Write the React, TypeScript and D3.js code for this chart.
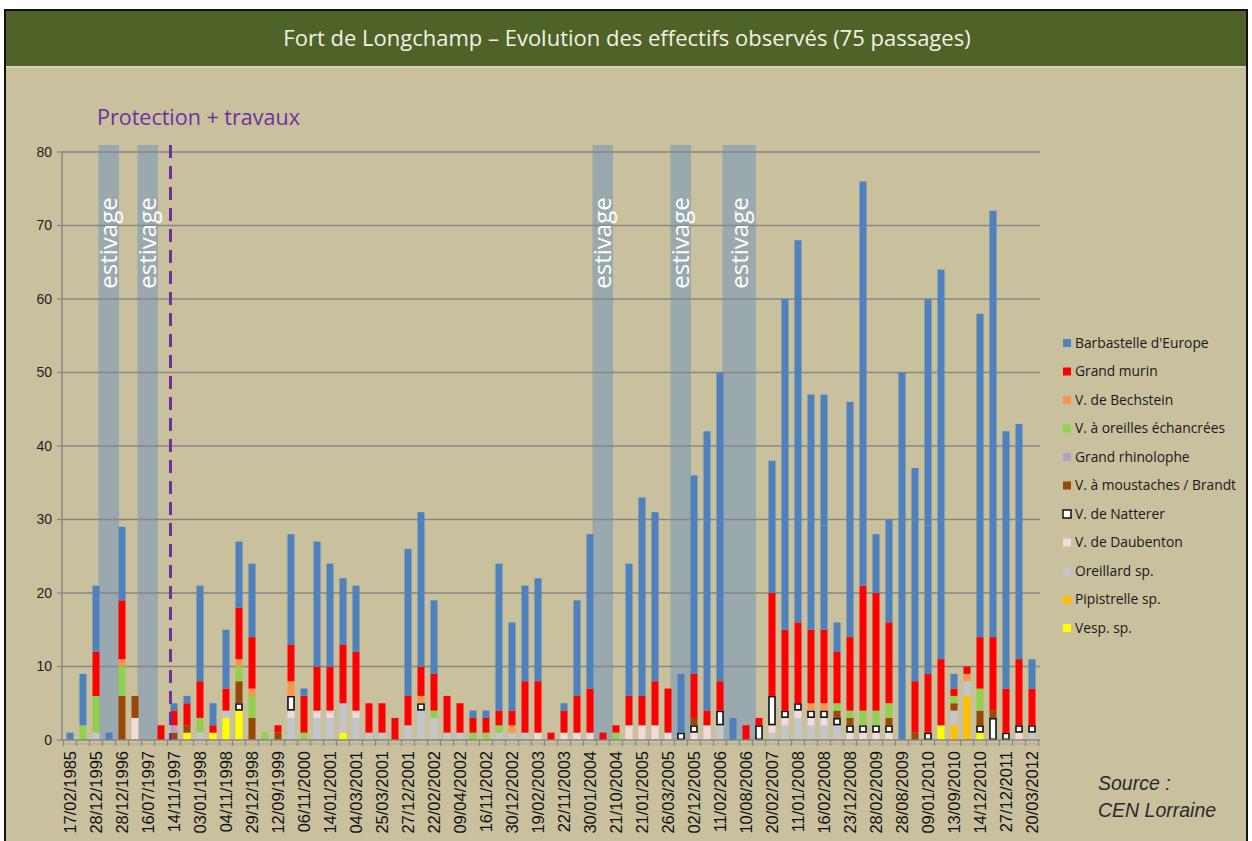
import React from 'react';
import * as d3 from 'd3';

// ---------- DATA ----------
const tickLabels = [
  '17/02/1985', '28/12/1995', '28/12/1996', '16/07/1997', '14/11/1997', '03/01/1998',
  '04/11/1998', '29/12/1998', '12/09/1999', '06/11/2000', '14/01/2001', '04/03/2001',
  '25/03/2001', '27/12/2001', '22/02/2002', '09/04/2002', '16/11/2002', '30/12/2002',
  '19/02/2003', '22/11/2003', '30/01/2004', '21/10/2004', '21/01/2005', '26/03/2005',
  '02/12/2005', '11/02/2006', '10/08/2006', '20/02/2007', '11/01/2008', '16/02/2008',
  '23/12/2008', '28/02/2009', '28/08/2009', '09/01/2010', '13/09/2010', '14/12/2010',
  '27/12/2011', '20/03/2012',
];

// stacking order: bottom -> top
const speciesNames = [
  'Vesp. sp.', 'Pipistrelle sp.', 'Oreillard sp.', 'V. de Daubenton', 'V. de Natterer',
  'V. à moustaches / Brandt', 'Grand rhinolophe', 'V. à oreilles échancrées',
  'V. de Bechstein', 'Grand murin', "Barbastelle d'Europe",
];
const speciesColors = [
  '#ffff00', '#ffc000', '#c3c6cc', '#f2dcdb', '#ffffff',
  '#984807', '#b3a2c7', '#92d050', '#f79646', '#ff0000', '#4f81bd',
];

const vesp = [
  0,0,0,0,0,0,0,0,0,1, 0,1,3,4,0,0,0,0,0,0, 0,1,0,0,0,0,0,0,0,0,
  0,0,0,0,0,0,0,0,0,0, 0,0,0,0,0,0,0,0,0,0, 0,0,0,0,0,0,0,0,0,0,
  0,0,0,0,0,0,0,2,0,0, 1,0,0,0,0,
];
const pipistrelle = [
  0,0,0,0,0,0,0,0,0,0, 0,0,0,0,0,0,0,0,0,0, 0,0,0,0,0,0,0,0,0,0,
  0,0,0,0,0,0,0,0,0,0, 0,0,0,0,0,0,0,0,0,0, 0,0,0,0,0,0,0,0,0,0,
  0,0,0,0,0,0,0,0,2,6, 0,0,0,0,0,
];
const oreillard = [
  0,0,1,0,0,0,0,0,0,0, 1,0,1,0,0,0,0,3,0,3, 3,4,3,1,1,0,2,4,3,1,
  1,0,0,1,1,1,0,0,0,0, 0,0,0,0,0,0,0,0,0,0, 2,0,0,0,1,2,3,2,2,2,
  0,0,0,0,0,0,0,0,2,2, 0,0,0,0,1,
];
const daubenton = [
  0,0,0,0,0,3,0,0,0,0, 0,0,0,0,0,0,0,1,0,1, 1,0,1,0,0,0,0,0,0,0,
  0,0,0,0,0,0,1,0,1,1, 1,0,0,2,2,2,1,0,1,2, 0,0,0,0,1,1,1,1,1,0,
  1,1,1,1,0,0,0,0,0,0, 0,0,0,1,0,
];
const natterer = [
  0,0,0,0,0,0,0,0,0,0, 0,0,0,1,0,0,0,2,0,0, 0,0,0,0,0,0,0,1,0,0,
  0,0,0,0,0,0,0,0,0,0, 0,0,0,0,0,0,0,1,1,0, 2,0,0,2,4,1,1,1,1,1,
  1,1,1,1,0,0,1,0,0,0, 1,3,1,1,1,
];
const moustaches = [
  0,0,0,0,6,3,0,0,1,1, 0,0,0,3,3,0,1,0,0,0, 0,0,0,0,0,0,0,0,0,0,
  0,0,0,0,0,0,0,0,0,0, 0,0,0,0,0,0,0,0,1,0, 0,0,0,0,0,0,0,0,0,1,
  1,0,0,1,0,1,0,0,1,0, 2,1,0,0,0,
];
const rhinolophe = [
  0,0,0,0,0,0,0,0,1,0, 0,0,0,0,0,0,0,0,0,0, 0,0,0,0,0,0,0,0,0,0,
  0,0,0,0,0,0,0,0,0,0, 0,0,0,0,0,0,0,0,0,0, 0,0,0,0,0,0,0,0,0,0,
  0,0,0,0,0,0,0,0,0,0, 0,0,0,0,0,
];
const echancrees = [
  0,2,5,0,4,0,0,0,0,0, 2,0,0,2,3,1,0,0,1,0, 0,0,0,0,0,0,0,0,1,0,
  0,1,1,1,0,0,0,0,0,0, 0,0,1,0,0,0,0,0,0,0, 0,0,0,0,0,0,0,0,0,1,
  1,2,2,2,0,0,0,0,1,0, 3,0,0,0,0,
];
const bechstein = [
  0,0,0,0,1,0,0,0,0,0, 0,0,0,1,1,0,0,2,0,0, 0,0,0,0,0,0,0,1,0,0,
  0,0,0,0,1,0,0,0,0,0, 0,0,0,0,0,0,0,0,0,0, 0,0,0,0,0,0,0,1,1,0,
  0,0,0,0,0,0,0,0,0,1, 0,0,0,0,0,
];
const grandMurin = [
  0,0,6,0,8,0,0,2,2,3, 5,1,3,7,7,0,1,5,5,6, 6,8,8,4,4,3,4,4,5,5,
  4,2,2,2,2,7,7,1,3,5, 6,1,1,4,4,6,6,0,6,2, 4,0,2,1,14,11,11,10,10,7,
  10,17,16,11,0,7,8,9,1,1, 7,10,6,9,5,
];
const barbastelle = [
  1,7,9,1,10,0,0,0,1,1, 13,3,8,9,10,0,0,15,1,17, 14,9,9,0,0,0,20,21,10,0,
  0,1,1,20,12,13,14,0,1,13, 21,0,0,18,27,23,0,8,27,38, 42,3,0,0,18,45,52,32,32,4,
  32,55,8,14,50,29,51,53,2,0, 44,58,35,32,4,
];

const seriesValues = [
  vesp, pipistrelle, oreillard, daubenton, natterer, moustaches,
  rhinolophe, echancrees, bechstein, grandMurin, barbastelle,
];

const yTicks = [0, 10, 20, 30, 40, 50, 60, 70, 80];
// estivage periods (first / last passage index covered)
const estivageStart = [3, 6, 41, 47, 51];
const estivageEnd = [3, 6, 41, 47, 52];
const protectionIndex = 8;

const N = barbastelle.length;

export default function App() {
  const W = 1252;
  const H = 841;
  const plotLeft = 63.5;
  const plotRight = 1038.5;
  const x = d3
    .scaleBand<number>()
    .domain(d3.range(N))
    .range([plotLeft, plotRight])
    .paddingInner(0.46)
    .paddingOuter(0.23);
  const y = d3.scaleLinear().domain([0, 80]).range([740, 152]);
  const bw = x.bandwidth();
  const step = x.step();
  const cx = (i: number) => (x(i) as number) + bw / 2;

  const keys = speciesNames.map((_, j) => 'k' + j);
  const table = d3.range(N).map((i) => {
    const o: any = { i };
    keys.forEach((k, j) => (o[k] = seriesValues[j][i]));
    return o;
  });
  const stacked = d3.stack<any>().keys(keys)(table);

  const bg = '#c9c09d';
  const font = "'Open Sans', 'Liberation Sans', sans-serif";
  const arial = "'Liberation Sans', Arial, sans-serif";
  const natIdx = 4;

  return (
    <svg
      width={W}
      height={H}
      style={{ position: 'absolute', left: 0, top: 0, display: 'block' }}
    >
      <rect x={0} y={0} width={W} height={H} fill="#ffffff" />
      <rect x={5} y={10} width={1242} height={840} fill={bg} stroke="#111" strokeWidth={2} />
      <rect x={6} y={11} width={1240} height={55} fill="#4f6228" />
      <line x1={6} x2={1246} y1={67} y2={67} stroke="#dcd6b6" strokeWidth={1.5} />
      <text
        x={627}
        y={46}
        textAnchor="middle"
        fontFamily={font}
        fontSize={22}
        fill="#f1f1e4"
      >
        Fort de Longchamp – Evolution des effectifs observés (75 passages)
      </text>

      {/* estivage bands */}
      {estivageStart.map((s, k) => {
        const x0 = cx(s) - 10.5;
        const x1 = cx(estivageEnd[k]) + 10;
        return (
          <rect
            key={'band' + k}
            x={x0}
            y={145}
            width={x1 - x0}
            height={740 - 145}
            fill="#8ea2b2"
            opacity={0.8}
          />
        );
      })}

      {/* gridlines */}
      {yTicks.map((t) => (
        <g key={'g' + t}>
          {t > 0 && (
            <line x1={62} x2={1040} y1={y(t)} y2={y(t)} stroke="#878787" strokeWidth={1.3} />
          )}
          <line x1={57} x2={62} y1={y(t)} y2={y(t)} stroke="#878787" strokeWidth={1.3} />
          <text
            x={52}
            y={y(t)}
            dy="0.35em"
            textAnchor="end"
            fontFamily={arial}
            fontSize={14}
            fill="#1e1e1e"
          >
            {t}
          </text>
        </g>
      ))}
      <line x1={62} x2={62} y1={152} y2={740} stroke="#878787" strokeWidth={1.5} />

      {/* bars */}
      {stacked.map((layer, j) => (
        <g key={'s' + j}>
          {layer.map((d, i) => {
            const h = y(d[0]) - y(d[1]);
            if (h <= 0) return null;
            const isNat = j === natIdx;
            return (
              <rect
                key={i}
                x={(x(i) as number) + (isNat ? 0.5 : 0)}
                y={y(d[1]) + (isNat ? 0.75 : 0)}
                width={bw - (isNat ? 1 : 0)}
                height={h - (isNat ? 1.5 : 0)}
                fill={speciesColors[j]}
                stroke={isNat ? '#111' : 'none'}
                strokeWidth={isNat ? 1.6 : 0}
              />
            );
          })}
        </g>
      ))}

      {/* x axis */}
      <line x1={62} x2={1040} y1={740} y2={740} stroke="#878787" strokeWidth={1.5} />
      <line x1={62} x2={1040} y1={744} y2={744} stroke="#a9a58c" strokeWidth={1} />
      {d3.range(N + 1).map((k) => {
        const xx = plotLeft + k * step;
        return <line key={'t' + k} x1={xx} x2={xx} y1={740} y2={746} stroke="#878787" strokeWidth={1.2} />;
      })}
      {tickLabels.map((lab, k) => {
        const i = k * 2;
        return (
          <text
            key={'xl' + k}
            transform={`translate(${cx(i)},751) rotate(-90)`}
            dy="0.35em"
            textAnchor="end"
            fontFamily={arial}
            fontSize={16.5}
            fill="#111"
          >
            {lab}
          </text>
        );
      })}

      {/* estivage labels */}
      {estivageStart.map((s, k) => {
        const c = (cx(s) + cx(estivageEnd[k])) / 2;
        return (
          <text
            key={'et' + k}
            transform={`translate(${c},243) rotate(-90)`}
            dy="0.35em"
            textAnchor="middle"
            fontFamily={font}
            fontSize={24}
            fill="#ffffff"
          >
            estivage
          </text>
        );
      })}

      {/* protection line */}
      <line
        x1={x(protectionIndex) as number}
        x2={x(protectionIndex) as number}
        y1={145}
        y2={740}
        stroke="#7030a0"
        strokeWidth={3}
        strokeDasharray="13 8"
      />
      <text x={97} y={125} fontFamily={font} fontSize={21.5} fill="#7030a0">
        Protection + travaux
      </text>

      {/* legend */}
      {speciesNames
        .map((n, j) => ({ n, j }))
        .reverse()
        .map(({ n, j }, r) => {
          const yy = 343 + r * 28.5;
          return (
            <g key={'lg' + j}>
              <rect
                x={1063}
                y={yy - 4}
                width={8}
                height={8}
                fill={speciesColors[j]}
                stroke={j === natIdx ? '#111' : 'none'}
                strokeWidth={j === natIdx ? 1.5 : 0}
              />
              <text x={1075} y={yy} dy="0.35em" fontFamily={font} fontSize={13.8} fill="#1a1a1a">
                {n}
              </text>
            </g>
          );
        })}

      {/* source */}
      <text x={1098} y={790} fontFamily={arial} fontStyle="italic" fontSize={19.5} fill="#2a2a2a">
        Source :
      </text>
      <text x={1098} y={817} fontFamily={arial} fontStyle="italic" fontSize={19.5} fill="#2a2a2a">
        CEN Lorraine
      </text>
    </svg>
  );
}
